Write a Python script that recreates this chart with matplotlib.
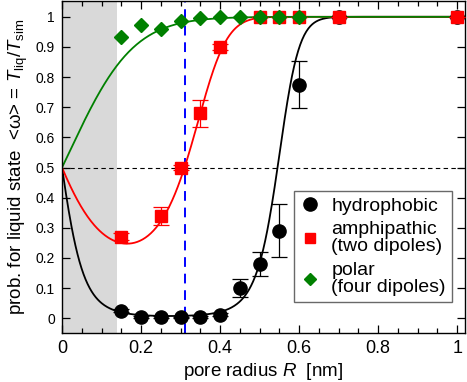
import numpy as np
import matplotlib
matplotlib.use("Agg")
import matplotlib.pyplot as plt
from matplotlib.ticker import MultipleLocator, FixedLocator

plt.rcParams['font.family'] = ['Liberation Sans', 'DejaVu Sans']
plt.rcParams['mathtext.fontset'] = 'custom'
plt.rcParams['mathtext.rm'] = 'Liberation Sans'
plt.rcParams['mathtext.it'] = 'Liberation Sans:italic'

# ---- data ----
r_hphob = [0.15, 0.20, 0.25, 0.30, 0.35, 0.40, 0.45, 0.50, 0.55, 0.60, 0.70, 1.00]
w_hphob = [0.025, 0.005, 0.005, 0.003, 0.005, 0.012, 0.10, 0.18, 0.29, 0.775, 1.0, 1.0]
e_hphob = [0.004, 0.003, 0.003, 0.002, 0.003, 0.006, 0.03, 0.04, 0.088, 0.078, 0.0, 0.0]

r_amph = [0.15, 0.25, 0.30, 0.35, 0.40, 0.50, 0.55, 0.60, 0.70, 1.00]
w_amph = [0.27, 0.34, 0.50, 0.68, 0.90, 1.0, 1.0, 1.0, 1.0, 1.0]
e_amph = [0.012, 0.03, 0.008, 0.045, 0.01, 0.0, 0.0, 0.0, 0.0, 0.0]

r_polar = [0.15, 0.20, 0.25, 0.30, 0.35, 0.40, 0.45, 0.50, 0.55, 0.60]
w_polar = [0.933, 0.972, 0.961, 0.986, 0.995, 1.0, 1.0, 1.0, 1.0, 1.0]

# fit model: omega = 1/(1+exp(c1 R + c2 R^2 + c3 R^3))
fit_hphob = [36.0, -66.0, 0.0]
fit_amph = [12.42, -28.0, -38.9]
fit_polar = [-11.0, -6.0, 0.0]

labels = ['hydrophobic', 'amphipathic\n(two dipoles)', 'polar\n(four dipoles)']
shade_end = 0.14
r_crit = 0.31

xticks = [0, 0.2, 0.4, 0.6, 0.8, 1.0]
xticklabels = ['0', '0.2', '0.4', '0.6', '0.8', '1']
yticks = [0, 0.1, 0.2, 0.3, 0.4, 0.5, 0.6, 0.7, 0.8, 0.9, 1.0]
yticklabels = ['0', '0.1', '0.2', '0.3', '0.4', '0.5', '0.6', '0.7', '0.8', '0.9', '1']


def model(R, c):
    E = c[0] * R + c[1] * R**2 + c[2] * R**3
    return 1.0 / (1.0 + np.exp(E))


fig = plt.figure(figsize=(4.67, 3.82), dpi=100)
ax = fig.add_axes([0.1328, 0.1275, 0.863, 0.8695])

ax.axvspan(0, shade_end, color='#d9d9d9', lw=0, zorder=0)
ax.axhline(0.5, color='black', lw=0.8, ls=(0, (4, 3)), zorder=1)
ax.axvline(r_crit, color='#0000ff', lw=1.4, ls=(0, (5, 3.5)), zorder=1)

R = np.linspace(0, 1.02, 600)
ax.plot(R, model(R, fit_hphob), color='black', lw=1.3, zorder=2)
ax.plot(R, model(R, fit_amph), color='#ff0000', lw=1.3, zorder=2)
ax.plot(R, model(R, fit_polar), color='#008000', lw=1.3, zorder=2)

ax.errorbar(r_hphob, w_hphob, yerr=e_hphob, fmt='o', color='black', ms=9.5,
            capsize=5.5, elinewidth=0.9, capthick=0.9, zorder=3, label=labels[0])
ax.errorbar(r_amph, w_amph, yerr=e_amph, fmt='s', color='#ff0000', ms=8.5,
            capsize=5.5, elinewidth=0.9, capthick=0.9, zorder=4, label=labels[1])
ax.plot(r_polar, w_polar, 'D', color='#008000', ms=7.5, ls='none', zorder=5,
        label=labels[2])

ax.set_xlim(0, 1.02)
ax.set_ylim(-0.05, 1.052)
ax.xaxis.set_major_locator(FixedLocator(xticks))
ax.set_xticklabels(xticklabels)
ax.xaxis.set_minor_locator(MultipleLocator(0.05))
ax.yaxis.set_major_locator(FixedLocator(yticks))
ax.set_yticklabels(yticklabels)
ax.tick_params(which='both', direction='in', top=True, right=True)
ax.tick_params(axis='x', labelsize=13, pad=5)
ax.tick_params(axis='y', labelsize=10, pad=5)
ax.tick_params(which='major', length=6, width=0.9)
ax.tick_params(which='minor', length=3.5, width=0.9)
for s in ax.spines.values():
    s.set_linewidth(1.0)

ax.set_xlabel(r'pore radius $R$  [nm]', fontsize=13.5, labelpad=3)
ax.set_ylabel(r'prob. for liquid state  <ω> = $T_{\rm liq}/T_{\rm sim}$',
              fontsize=13.5, labelpad=4)

h0 = plt.Line2D([], [], marker='o', color='black', ls='none', ms=9.5)
h1 = plt.Line2D([], [], marker='s', color='#ff0000', ls='none', ms=6.5)
h2 = plt.Line2D([], [], marker='D', color='#008000', ls='none', ms=6)
leg = ax.legend([h0, h1, h2], labels, loc='lower right',
                bbox_to_anchor=(0.967, 0.094), borderaxespad=0, fontsize=14,
                frameon=True, fancybox=False, edgecolor='#444444',
                handlelength=1.0, handletextpad=0.6, labelspacing=0.35,
                borderpad=0.3)
for t in leg.get_texts():
    t.set_linespacing(1.0)
leg.get_frame().set_linewidth(1.0)

fig.savefig('out.png', dpi=100)
